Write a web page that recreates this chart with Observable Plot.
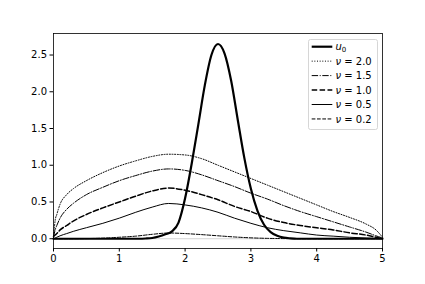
<!DOCTYPE html>
<html>
<head>
<meta charset="utf-8">
<script src="https://cdn.jsdelivr.net/npm/d3@7"></script>
<script src="https://cdn.jsdelivr.net/npm/@observablehq/plot@0.6"></script>
<style>
  html, body { margin: 0; padding: 0; background: #fff; }
  #chart svg { display: block; }
</style>
</head>
<body>
<div id="chart"></div>
<script>
// ---- data ----
const xs = [0, 0.025, 0.05, 0.1, 0.2, 0.3, 0.5, 0.75, 1.0, 1.25, 1.5, 1.75, 2.0, 2.25, 2.5, 2.75, 3.0, 3.25, 3.5, 3.75, 4.0, 4.25, 4.5, 4.75, 4.9, 5.0];
const nu20 = [0.0, 0.25, 0.33, 0.47, 0.60, 0.68, 0.79, 0.90, 0.99, 1.06, 1.12, 1.15, 1.14, 1.09, 1.00, 0.91, 0.82, 0.73, 0.64, 0.55, 0.46, 0.37, 0.29, 0.20, 0.12, 0.02];
const nu15 = [0.02, 0.12, 0.18, 0.28, 0.40, 0.48, 0.60, 0.70, 0.79, 0.86, 0.92, 0.95, 0.93, 0.87, 0.79, 0.71, 0.62, 0.54, 0.45, 0.37, 0.30, 0.23, 0.16, 0.09, 0.04, 0.01];
const nu10 = [0.03, 0.05, 0.07, 0.12, 0.18, 0.24, 0.33, 0.42, 0.50, 0.58, 0.65, 0.69, 0.66, 0.60, 0.53, 0.44, 0.37, 0.28, 0.22, 0.18, 0.15, 0.12, 0.08, 0.05, 0.02, 0.0];
const nu05 = [0.0, 0.01, 0.02, 0.04, 0.07, 0.10, 0.15, 0.21, 0.28, 0.36, 0.43, 0.48, 0.46, 0.42, 0.36, 0.28, 0.21, 0.15, 0.11, 0.08, 0.05, 0.035, 0.02, 0.01, 0.005, 0.0];
const nu02 = [0, 0, 0, 0, 0, 0, 0.002, 0.008, 0.02, 0.035, 0.06, 0.078, 0.07, 0.056, 0.04, 0.024, 0.012, 0.005, 0.002, 0, 0, 0, 0, 0, 0, 0];

const u0x = [0, 1.3, 1.4, 1.5, 1.6, 1.7, 1.8, 1.9, 2.0, 2.1, 2.2, 2.3, 2.4, 2.5, 2.6, 2.7, 2.8, 2.9, 3.0, 3.1, 3.2, 3.3, 3.4, 3.5, 3.6, 3.7, 5.0];
const u0y = [0, 0, 0.003, 0.01, 0.03, 0.06, 0.10, 0.22, 0.55, 1.02, 1.55, 2.09, 2.50, 2.65, 2.52, 2.15, 1.62, 1.10, 0.68, 0.38, 0.19, 0.09, 0.04, 0.015, 0.005, 0, 0];

const xTicks = [0, 1, 2, 3, 4, 5];
const yTicks = [0, 0.5, 1.0, 1.5, 2.0, 2.5];

const series = [
  {label: "2.0", ys: nu20, dash: "1,1.65", width: 1},
  {label: "1.5", ys: nu15, dash: "6.4,1.6,1,1.6", width: 1},
  {label: "1.0", ys: nu10, dash: "5.5,2.4", width: 1.5},
  {label: "0.5", ys: nu05, dash: null, width: 1},
  {label: "0.2", ys: nu02, dash: "3.7,1.6", width: 1}
];

const font = "DejaVu Sans, sans-serif";

const lineMarks = series.map(s => Plot.line(xs.map((x, i) => ({x, y: s.ys[i]})), {
  x: "x", y: "y", stroke: "black", strokeWidth: s.width,
  strokeDasharray: s.dash || undefined, curve: "monotone-x"
}));

const chart = Plot.plot({
  width: 425,
  height: 284,
  marginLeft: 53,
  marginRight: 43,
  marginTop: 33,
  marginBottom: 36,
  style: {fontFamily: font, fontSize: "10px", color: "black", background: "white"},
  x: {domain: [0, 5]},
  y: {domain: [-0.133, 2.793]},
  marks: [
    Plot.ruleY([0], {stroke: "#c8c8c8", strokeWidth: 0.8}),
    ...lineMarks,
    Plot.line(u0x.map((x, i) => ({x, y: u0y[i]})), {x: "x", y: "y", stroke: "black", strokeWidth: 2.2, curve: "monotone-x"}),
    Plot.frame({stroke: "black", strokeWidth: 0.8}),
    Plot.axisX({ticks: xTicks, tickSize: 3.5, tickPadding: 3, tickFormat: d3.format("d"), label: null, fontSize: 10}),
    Plot.axisY({ticks: yTicks, tickSize: 3.5, tickPadding: 3, tickFormat: d3.format(".1f"), label: null, fontSize: 10})
  ]
});

document.getElementById("chart").appendChild(chart);

// ---- legend (upper right, inside the axes) ----
const svg = d3.select(chart);
const lg = svg.append("g").attr("font-family", font).attr("font-size", 10).attr("text-anchor", "start");
const bx = 308.5, by = 39.5, bw = 69, bh = 90;
lg.append("rect").attr("x", bx).attr("y", by).attr("width", bw).attr("height", bh)
  .attr("rx", 2).attr("fill", "white").attr("fill-opacity", 0.8)
  .attr("stroke", "#cccccc").attr("stroke-width", 0.8);

const entries = [{label: "u0", dash: null, width: 2.2}, ...series];
const rowY0 = 46.7, rowStep = 14.45;
entries.forEach((e, i) => {
  const yy = rowY0 + i * rowStep;
  lg.append("line").attr("x1", 311.7).attr("x2", 332.3).attr("y1", yy).attr("y2", yy)
    .attr("stroke", "black").attr("stroke-width", e.width)
    .attr("stroke-dasharray", e.dash || null);
  const t = lg.append("text").attr("x", 335.5).attr("y", yy + 3.6).attr("fill", "black").attr("text-anchor", "start");
  if (i === 0) {
    t.append("tspan").attr("font-style", "italic").text("u");
    t.append("tspan").attr("font-size", 7).attr("dy", 1.8).text("0");
  } else {
    t.append("tspan").attr("font-style", "italic").text("ν");
    t.append("tspan").text(" = " + e.label);
  }
});
</script>
</body>
</html>
